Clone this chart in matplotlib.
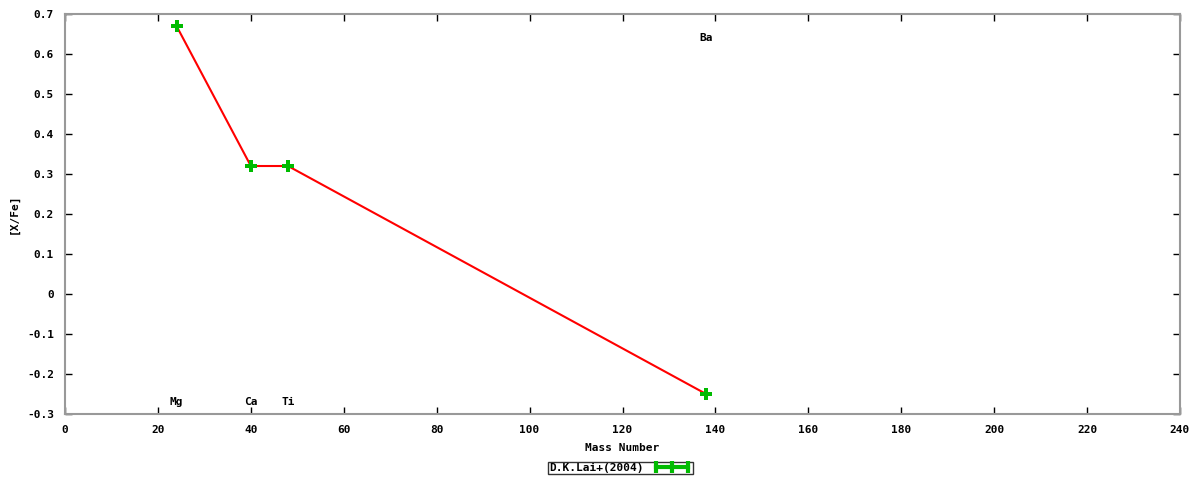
import numpy as np
import matplotlib
matplotlib.use('Agg')
import matplotlib.pyplot as plt
from matplotlib.ticker import MultipleLocator, FuncFormatter
from matplotlib.lines import Line2D

# abundance data (D.K.Lai+ 2004)
elements = ['Mg', 'Ca', 'Ti', 'Ba']
mass = [24, 40, 48, 138]
xfe = [0.67, 0.32, 0.32, -0.25]
label_y = [-0.27, -0.27, -0.27, 0.64]

plt.rcParams['font.family'] = ['DejaVu Sans Mono']
plt.rcParams['font.weight'] = 'bold'
plt.rcParams['font.size'] = 8

fig = plt.figure(figsize=(12, 4.8), dpi=100)
ax = fig.add_axes([0.0542, 0.1375, 0.9291, 0.8333])

ax.plot(mass, xfe, color='red', lw=1.5, zorder=2)
ax.plot(mass, xfe, ls='none', marker='P', ms=8, color='#00bb00',
        markeredgewidth=0, zorder=4)
for el, m, ly in zip(elements, mass, label_y):
    ax.text(m, ly, el, ha='center', va='center', fontsize=8, fontweight='bold')

ax.set_xlim(0, 240)
ax.set_ylim(-0.3, 0.7)
ax.xaxis.set_major_locator(MultipleLocator(20))
ax.yaxis.set_major_locator(MultipleLocator(0.1))

def yfmt(v, pos):
    if abs(v) < 1e-9:
        return '0'
    return '{:.1f}'.format(v)
ax.yaxis.set_major_formatter(FuncFormatter(yfmt))

ax.tick_params(direction='in', length=5, width=1, top=True, right=True,
               pad=8, labelsize=8)
for s in ax.spines.values():
    s.set_color('#999999')
    s.set_linewidth(1.5)

ax.set_xlabel('Mass Number', fontsize=8, fontweight='bold', labelpad=6)
ax.set_ylabel('[X/Fe]', fontsize=8, fontweight='bold', labelpad=6)

# legend box under the plot
h = Line2D([0], [0], color='#00bb00', lw=3, marker='|', ms=8, mew=3)
leg = fig.legend([h], ['D.K.Lai+(2004)'], loc='center', bbox_to_anchor=(0.517, 0.025),
                 frameon=True, fancybox=False, edgecolor='black', handlelength=3.5,
                 numpoints=3, markerfirst=False, borderpad=0.1, handletextpad=0.8,
                 prop={'family': 'DejaVu Sans Mono', 'weight': 'bold', 'size': 8})
leg.get_frame().set_linewidth(1)

fig.savefig('out.png', dpi=100)
